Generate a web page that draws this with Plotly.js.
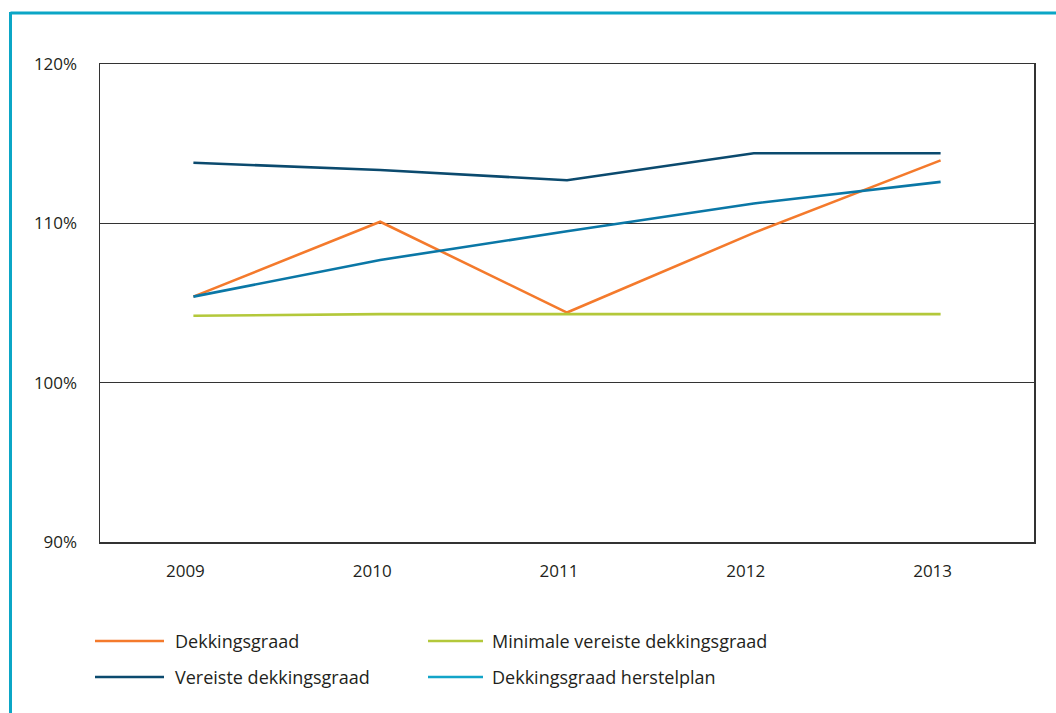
<!DOCTYPE html>
<html>
<head>
<meta charset="utf-8">
<script src="https://cdn.plot.ly/plotly-3.0.1.min.js"></script>
<style>html,body{margin:0;padding:0;background:#fff;}#chart{width:1056px;height:713px;}</style>
</head>
<body>
<div id="chart"></div>
<script>
// Data
const years = ['2009', '2010', '2011', '2012', '2013'];
const seriesNames = ['Dekkingsgraad', 'Minimale vereiste dekkingsgraad', 'Vereiste dekkingsgraad', 'Dekkingsgraad herstelplan'];
const dekkingsgraad = [105.4, 110.1, 104.4, 109.4, 113.95];
const minimaleVereiste = [104.2, 104.3, 104.3, 104.3, 104.3];
const vereiste = [113.8, 113.35, 112.7, 114.4, 114.4];
const herstelplan = [105.4, 107.7, 109.5, 111.25, 112.6];
const yTickVals = [90, 100, 110, 120];
const yTickText = ['90%', '100%', '110%', '120%'];

// Styles
const lineColors = ['#f47a2c', '#b3c83a', '#0b4a6e', '#0a77a6'];
const legendColors = ['#f47a2c', '#b3c83a', '#0b4a6e', '#12a4c8'];
const textColor = '#231f20';
const fontFamily = '"Open Sans", "DejaVu Sans", sans-serif';

const W = 1056, H = 713;
const M = {l: 100, r: 22, t: 64, b: 171};
const pw = W - M.l - M.r, ph = H - M.t - M.b;
const px = x => (x - M.l) / pw;
const py = y => (H - M.b - y) / ph;

const allSeries = [dekkingsgraad, minimaleVereiste, vereiste, herstelplan];
const traces = allSeries.map((vals, i) => ({
  type: 'scatter', mode: 'lines', x: years, y: vals, name: seriesNames[i],
  line: {color: lineColors[i], width: 2.6}, showlegend: false, hoverinfo: 'skip'
}));

// legend layout: column, row
const legendPos = [
  {x0: 95, x1: 164, tx: 173, y: 641},
  {x0: 428, x1: 483, tx: 490, y: 641},
  {x0: 95, x1: 164, tx: 173, y: 677},
  {x0: 428, x1: 483, tx: 490, y: 677}
];

const shapes = [
  // teal frame
  {type: 'line', xref: 'paper', yref: 'paper', x0: px(10.5), x1: px(1060), y0: py(13), y1: py(13), line: {color: '#0ba6c6', width: 3}},
  {type: 'line', xref: 'paper', yref: 'paper', x0: px(10.5), x1: px(10.5), y0: py(12), y1: py(720), line: {color: '#0ba6c6', width: 3}}
];
const annotations = [];
legendPos.forEach((p, i) => {
  shapes.push({type: 'line', xref: 'paper', yref: 'paper', x0: px(p.x0), x1: px(p.x1), y0: py(p.y), y1: py(p.y), line: {color: legendColors[i], width: 2.6}});
  annotations.push({xref: 'paper', yref: 'paper', x: px(p.tx), y: py(p.y), xanchor: 'left', yanchor: 'middle', text: seriesNames[i], showarrow: false, font: {family: fontFamily, size: 18, color: textColor}});
});

const layout = {
  width: W, height: H,
  margin: M,
  paper_bgcolor: '#ffffff', plot_bgcolor: '#ffffff',
  font: {family: fontFamily, size: 17, color: textColor},
  showlegend: false,
  xaxis: {
    type: 'category', range: [-0.5, 4.5], showgrid: false, zeroline: false,
    showline: true, mirror: true, linecolor: '#333', linewidth: 1.5,
    ticks: '', ticklabelstandoff: 13, ticklabelshift: -8,
    tickfont: {family: fontFamily, size: 17, color: textColor}, fixedrange: true
  },
  yaxis: {
    range: [90, 120], tickvals: yTickVals, ticktext: yTickText,
    showgrid: true, gridcolor: '#333', gridwidth: 1, zeroline: false,
    showline: true, mirror: true, linecolor: '#333', linewidth: 1.5,
    ticks: '', ticklabelstandoff: 18,
    tickfont: {family: fontFamily, size: 17, color: textColor}, fixedrange: true
  },
  shapes: shapes,
  annotations: annotations
};

Plotly.newPlot('chart', traces, layout, {displayModeBar: false, staticPlot: true});
</script>
</body>
</html>
